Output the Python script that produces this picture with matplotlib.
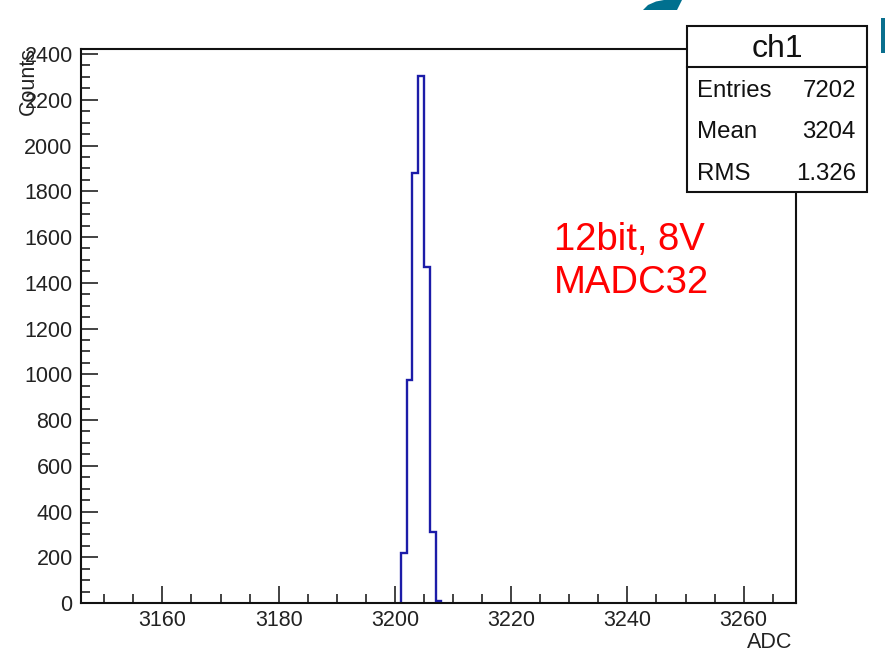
import numpy as np
import matplotlib
matplotlib.use("Agg")
import matplotlib.pyplot as plt
from matplotlib.patches import Rectangle, Polygon
from matplotlib.ticker import MultipleLocator

plt.rcParams['font.family'] = ['Liberation Sans', 'DejaVu Sans']

# ヒストグラムのデータ（幅1のビン）
bin_edges = [3201, 3202, 3203, 3204, 3205, 3206, 3207, 3208]
counts = [220, 975, 1880, 2305, 1470, 310, 10]

# 統計ボックス
hist_name = "ch1"
stat_names = ["Entries", "Mean", "RMS"]
stat_values = ["7202", "3204", "1.326"]

W, H = 885, 653
fig = plt.figure(figsize=(W/100, H/100), dpi=100)

def fx(px): return px/W        # ピクセル -> figure座標
def fy(py): return 1 - py/H

ax = fig.add_axes([fx(81), fy(603), (796-81)/W, (603-49)/H])
ax.stairs(counts, bin_edges, color='#1c1ca8', lw=1.7)

ax.set_xlim(3146, 3269)
ax.set_ylim(0, 2422)
ax.xaxis.set_major_locator(MultipleLocator(20))
ax.xaxis.set_minor_locator(MultipleLocator(5))
ax.yaxis.set_major_locator(MultipleLocator(200))
ax.yaxis.set_minor_locator(MultipleLocator(50))
ax.tick_params(which='both', direction='in', top=False, right=False,
               width=1.2, colors='#222222', labelsize=15.5)
ax.tick_params(which='major', length=12.5)
ax.tick_params(which='minor', length=6.5)
ax.tick_params(axis='y', pad=6)
ax.tick_params(axis='x', pad=5)
for s in ax.spines.values():
    s.set_linewidth(1.5)
    s.set_color('#111111')

# 軸タイトル（ROOT風）
fig.text(fx(28.5), fy(47), "Counts", rotation=90, ha='center', va='top',
         fontsize=15.5, color='#222222')
fig.text(fx(792), fy(648), "ADC", ha='right', va='baseline',
         fontsize=15.5, color='#222222')

# 統計ボックス
bx0, bx1, by0, by1, bsep = 687, 867, 26, 192, 67
fig.patches.append(Rectangle((fx(bx0), fy(by1)), (bx1-bx0)/W, (by1-by0)/H,
                             transform=fig.transFigure, facecolor='white',
                             edgecolor='#111111', lw=1.5, zorder=5))
fig.lines.append(plt.Line2D([fx(bx0), fx(bx1)], [fy(bsep), fy(bsep)],
                            transform=fig.transFigure, color='#111111',
                            lw=1.5, zorder=6))
fig.text(fx(777), fy(57), hist_name, ha='center', va='baseline',
         fontsize=23, color='#111111', zorder=7)
for k, (n, v) in enumerate(zip(stat_names, stat_values)):
    yb = 96.7 + 41.7*k
    fig.text(fx(697), fy(yb), n, ha='left', va='baseline', fontsize=17.3,
             color='#111111', zorder=7)
    fig.text(fx(856), fy(yb), v, ha='right', va='baseline', fontsize=17.3,
             color='#111111', zorder=7)

# 赤い注記
fig.text(fx(554), fy(250), "12bit, 8V", ha='left', va='baseline',
         fontsize=27.5, color='red')
fig.text(fx(554), fy(293), "MADC32", ha='left', va='baseline',
         fontsize=27.5, color='red')

# スライドのロゴの切れ端
wedge = [(643, 10), (648, 5), (656, 1.5), (664, 0), (682, 0), (677, 10)]
fig.patches.append(Polygon([(fx(a), fy(b)) for a, b in wedge], closed=True,
                           transform=fig.transFigure, facecolor='#00708f',
                           edgecolor='none'))
fig.patches.append(Rectangle((fx(881), fy(53)), 4/W, 35/H,
                             transform=fig.transFigure, facecolor='#0a6f8e',
                             edgecolor='none'))

fig.savefig("out.png", dpi=100)
